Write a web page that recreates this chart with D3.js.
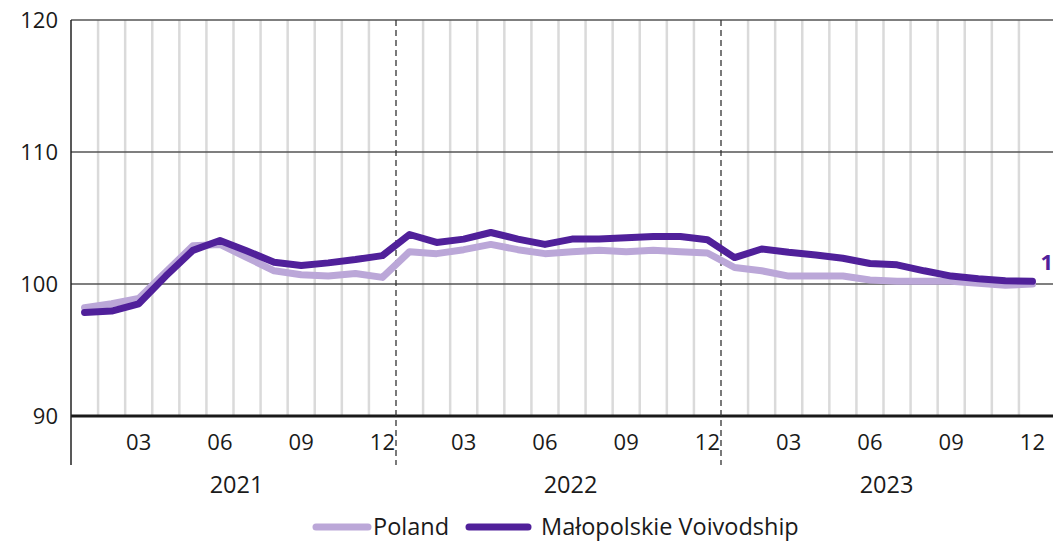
<!DOCTYPE html>
<html>
<head>
<meta charset="utf-8">
<script src="https://cdn.jsdelivr.net/npm/d3@7"></script>
<style>
  body { margin: 0; background: #fff; }
  svg { display: block; }
</style>
</head>
<body>
<script>
// Chart data
const years = ["2021", "2022", "2023"];
const months = ["01", "02", "03", "04", "05", "06", "07", "08", "09", "10", "11", "12"];
const tickMonths = ["03", "06", "09", "12"];
const yTicks = [90, 100, 110, 120];

const poland = [98.2, 98.5, 98.9, 100.9, 102.9, 103.0, 102.0, 101.0, 100.7, 100.6, 100.8, 100.5,
                102.45, 102.3, 102.6, 103.0, 102.6, 102.3, 102.45, 102.55, 102.45, 102.55, 102.45, 102.35,
                101.25, 101.0, 100.6, 100.6, 100.6, 100.3, 100.2, 100.2, 100.2, 100.05, 99.9, 100.0];
const malopolskie = [97.85, 97.95, 98.5, 100.6, 102.55, 103.3, 102.5, 101.65, 101.4, 101.6, 101.85, 102.15,
                     103.75, 103.15, 103.4, 103.9, 103.4, 103.0, 103.4, 103.4, 103.5, 103.6, 103.6, 103.35,
                     102.0, 102.65, 102.4, 102.2, 101.95, 101.55, 101.45, 101.0, 100.6, 100.4, 100.25, 100.2];
const lastLabel = "100.2";

const seriesNames = ["Poland", "Małopolskie Voivodship"];
const seriesColors = ["#bba7d8", "#50209a"];

// Build the month keys
const periods = [];
years.forEach(y => months.forEach(m => periods.push({year: y, month: m, key: y + "-" + m})));

const canvWidth = 1053, canvHeight = 541;
const svg = d3.select("body").append("svg")
    .attr("width", canvWidth)
    .attr("height", canvHeight)
    .style("font-family", "'Open Sans', sans-serif");

const plotLeft = 71, plotRight = 1046, plotTop = 20, plotBottom = 416;

// Scales
const xScale = d3.scaleBand()
    .domain(periods.map(d => d.key))
    .range([plotLeft, plotRight]);
const bw = xScale.bandwidth();
const xc = k => xScale(k) + bw / 2;

const yScale = d3.scaleLinear()
    .domain([90, 120])
    .range([plotBottom, plotTop]);

// Monthly vertical gridlines (band boundaries)
svg.append("g")
    .selectAll("line")
    .data(periods.slice(1).filter(d => d.month !== "01"))
    .enter().append("line")
    .attr("x1", d => xScale(d.key))
    .attr("x2", d => xScale(d.key))
    .attr("y1", plotTop)
    .attr("y2", plotBottom)
    .attr("stroke", "#dadada")
    .attr("stroke-width", 2.5);

// Horizontal gridlines
svg.append("g")
    .selectAll("line")
    .data(yTicks)
    .enter().append("line")
    .attr("x1", plotLeft)
    .attr("x2", canvWidth)
    .attr("y1", d => yScale(d))
    .attr("y2", d => yScale(d))
    .attr("stroke", d => d === 90 ? "#1a1a1a" : "#555")
    .attr("stroke-width", d => d === 90 ? 3 : 1.3);

// Year separators (dashed)
svg.append("g")
    .selectAll("line")
    .data(periods.filter(d => d.month === "01" && d.year !== years[0]))
    .enter().append("line")
    .attr("x1", d => xScale(d.key))
    .attr("x2", d => xScale(d.key))
    .attr("y1", plotTop)
    .attr("y2", 465)
    .attr("stroke", "#333")
    .attr("stroke-width", 1.3)
    .attr("stroke-dasharray", "6,4");

// Left axis line
svg.append("line")
    .attr("x1", plotLeft).attr("x2", plotLeft)
    .attr("y1", plotTop).attr("y2", 465)
    .attr("stroke", "#222")
    .attr("stroke-width", 1.5);

// Y labels
svg.append("g")
    .selectAll("text")
    .data(yTicks)
    .enter().append("text")
    .attr("x", 58)
    .attr("y", d => yScale(d))
    .attr("dy", "0.36em")
    .attr("text-anchor", "end")
    .attr("font-size", "22px")
    .attr("fill", "#1a1a1a")
    .text(d => d);

// Month tick labels
svg.append("g")
    .selectAll("text")
    .data(periods.filter(d => tickMonths.includes(d.month)))
    .enter().append("text")
    .attr("x", d => xc(d.key))
    .attr("y", 450)
    .attr("text-anchor", "middle")
    .attr("font-size", "22px")
    .attr("fill", "#1a1a1a")
    .text(d => d.month);

// Year labels
svg.append("g")
    .selectAll("text")
    .data(years)
    .enter().append("text")
    .attr("x", (y, i) => (xScale(y + "-01") + xScale(y + "-12") + bw) / 2 + (i === 1 ? 12 : 3))
    .attr("y", 493)
    .attr("text-anchor", "middle")
    .attr("font-size", "23.5px")
    .attr("fill", "#1a1a1a")
    .text(y => y);

// Lines
const line = d3.line()
    .x((d, i) => xc(periods[i].key))
    .y(d => yScale(d));

[poland, malopolskie].forEach((s, i) => {
    svg.append("path")
        .datum(s)
        .attr("d", line)
        .attr("fill", "none")
        .attr("stroke", seriesColors[i])
        .attr("stroke-width", 7)
        .attr("stroke-linejoin", "round")
        .attr("stroke-linecap", "round");
});

// Last value label (cut off at right edge, as in the original)
const lastKey = periods[periods.length - 1].key;
svg.append("text")
    .attr("x", xc(lastKey) + 8)
    .attr("y", yScale(malopolskie[malopolskie.length - 1]) - 11)
    .attr("font-size", "22px")
    .attr("font-weight", "bold")
    .attr("fill", seriesColors[1])
    .text(lastLabel);

// Legend
const legendItems = [
    {name: seriesNames[0], color: seriesColors[0], x1: 316, x2: 368, tx: 373},
    {name: seriesNames[1], color: seriesColors[1], x1: 469, x2: 528, tx: 541}
];
const legend = svg.append("g");
legendItems.forEach(d => {
    legend.append("line")
        .attr("x1", d.x1).attr("x2", d.x2)
        .attr("y1", 527).attr("y2", 527)
        .attr("stroke", d.color)
        .attr("stroke-width", 7)
        .attr("stroke-linecap", "round");
    legend.append("text")
        .attr("x", d.tx)
        .attr("y", 535)
        .attr("font-size", "23.5px")
        .attr("fill", "#1a1a1a")
        .text(d.name);
});
</script>
</body>
</html>
